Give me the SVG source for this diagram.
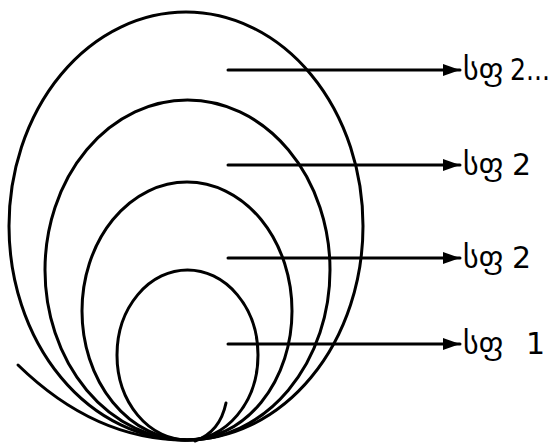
<svg xmlns="http://www.w3.org/2000/svg" width="557" height="443" viewBox="0 0 557 443">
<style>
.c{fill:none;stroke:#000;stroke-width:3;stroke-linecap:round}
.a{fill:none;stroke:#000;stroke-width:3;stroke-linecap:round}
.t{font-family:"DejaVu Sans",sans-serif;font-size:30px;fill:#000}
</style>
<defs>
<marker id="ah" markerUnits="userSpaceOnUse" markerWidth="18" markerHeight="12" refX="17" refY="6" orient="auto">
<path d="M0,0 L17,6 L0,12 Z" fill="#000"/>
</marker>
</defs>
<rect width="557" height="443" fill="#fff"/>
<g id="loops">
<ellipse id="loop1" class="c" cx="187.5" cy="355" rx="70.5" ry="85"/>
<ellipse id="loop2" class="c" cx="187" cy="311" rx="105" ry="129"/>
<ellipse id="loop3" class="c" cx="187.5" cy="270" rx="142.5" ry="170"/>
<ellipse id="loop4" class="c" cx="186" cy="226" rx="177" ry="214"/>
<path id="tail-left" class="c" d="M18,365 Q95,440 185,440"/>
<path id="tail-right" class="c" d="M226,403 Q220,432 195,441"/>
</g>
<g id="connectors">
<line class="a" x1="228" y1="70" x2="460" y2="70" marker-end="url(#ah)"/>
<line class="a" x1="228" y1="165" x2="460" y2="165" marker-end="url(#ah)"/>
<line class="a" x1="228" y1="258" x2="460" y2="258" marker-end="url(#ah)"/>
<line class="a" x1="228" y1="344" x2="460" y2="344" marker-end="url(#ah)"/>
</g>
<g id="label1"><text class="t" x="463" y="80">სფ</text><text class="t" x="510" y="80" textLength="40" lengthAdjust="spacingAndGlyphs">2...</text></g>
<g id="label2"><text class="t" x="463" y="175">სფ</text><text class="t" x="512" y="175">2</text></g>
<g id="label3"><text class="t" x="463" y="268">სფ</text><text class="t" x="512" y="268">2</text></g>
<g id="label4"><text class="t" x="463" y="354">სფ</text><text class="t" x="526" y="354">1</text></g>
</svg>
